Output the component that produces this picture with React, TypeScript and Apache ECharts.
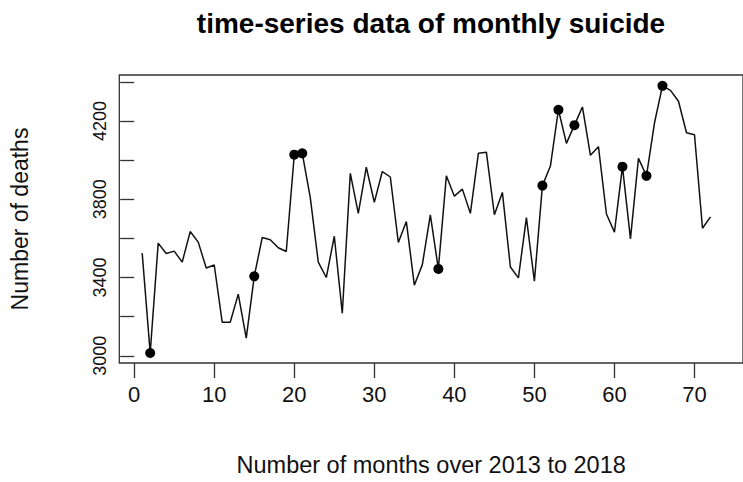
import React, { useEffect, useRef } from "react";
import * as echarts from "echarts";

// Monthly suicide deaths, month index 1..72 (2013-2018)
const months: number[] = Array.from({ length: 72 }, (_, i) => i + 1);
const deaths: number[] = [
  3525, 3014, 3576, 3523, 3535, 3479, 3635, 3581, 3449, 3464,
  3171, 3171, 3315, 3090, 3406, 3605, 3593, 3552, 3533, 4028,
  4035, 3809, 3479, 3400, 3611, 3217, 3933, 3728, 3964, 3784,
  3942, 3914, 3579, 3686, 3361, 3466, 3720, 3444, 3920, 3816,
  3852, 3728, 4035, 4041, 3721, 3835, 3454, 3398, 3706, 3381,
  3870, 3970, 4258, 4086, 4179, 4272, 4025, 4069, 3725, 3632,
  3967, 3598, 4009, 3920, 4190, 4380, 4357, 4301, 4140, 4130,
  3652, 3710,
];
// Months highlighted with a filled dot
const markedMonths: number[] = [2, 15, 20, 21, 38, 51, 53, 55, 61, 64, 66];

const xTicks: number[] = [0, 10, 20, 30, 40, 50, 60, 70];
const yTicks: number[] = [3000, 3200, 3400, 3600, 3800, 4000, 4200, 4400];
const yLabels: number[] = [3000, 3400, 3800, 4200];

const titleText = "time-series data of monthly suicide";
const xName = "Number of months over 2013 to 2018";
const yName = "Number of deaths";

const FONT = "'Liberation Sans', Arial, Helvetica, sans-serif";

export default function App() {
  const ref = useRef<HTMLDivElement>(null);

  useEffect(() => {
    if (!ref.current) return;
    const chart = echarts.init(ref.current, null, { renderer: "svg" });
    const lineData = months.map((m, i) => [m, deaths[i]]);
    const dotData = markedMonths.map((m) => [m, deaths[m - 1]]);

    chart.setOption({
      animation: false,
      backgroundColor: "#ffffff",
      textStyle: { fontFamily: FONT },
      title: {
        text: titleText,
        left: 426,
        textAlign: "center",
        top: 4,
        textStyle: { fontFamily: FONT, fontWeight: "bold", fontSize: 28, color: "#000" },
      },
      grid: {
        left: 119.3,
        right: -3,
        top: 75,
        bottom: 117,
        show: true,
        borderColor: "#333",
        borderWidth: 1.3,
        backgroundColor: "transparent",
      },
      xAxis: {
        type: "value",
        min: -1.86,
        max: 76.06,
        name: xName,
        nameLocation: "middle",
        nameGap: 90,
        nameTextStyle: { fontFamily: FONT, fontSize: 23.5, color: "#111" },
        axisLine: { show: false },
        axisTick: {
          show: true,
          length: 15,
          customValues: xTicks,
          lineStyle: { color: "#333", width: 1.3 },
        },
        axisLabel: {
          customValues: xTicks,
          fontSize: 22,
          color: "#111",
          margin: 20,
        },
        splitLine: { show: false },
      },
      yAxis: {
        type: "value",
        min: 2963,
        max: 4435.5,
        name: yName,
        nameLocation: "middle",
        nameRotate: 90,
        nameGap: 88,
        nameTextStyle: { fontFamily: FONT, fontSize: 23, color: "#111" },
        axisLine: { show: false },
        axisTick: {
          show: true,
          length: 14,
          customValues: yTicks,
          lineStyle: { color: "#333", width: 1.3 },
        },
        axisLabel: {
          customValues: yLabels,
          formatter: (v: number) => String(v),
          rotate: 90,
          fontSize: 18,
          color: "#111",
          margin: 10,
        },
        splitLine: { show: false },
      },
      series: [
        {
          type: "line",
          data: lineData,
          symbol: "none",
          lineStyle: { color: "#111", width: 1.5 },
          z: 2,
        },
        {
          type: "scatter",
          data: dotData,
          symbol: "circle",
          symbolSize: 10,
          itemStyle: { color: "#000", opacity: 1 },
          z: 3,
        },
      ],
    });

    return () => chart.dispose();
  }, []);

  return (
    <div
      ref={ref}
      style={{ position: "fixed", left: 0, top: 0, width: 743, height: 482, overflow: "hidden" }}
    />
  );
}
